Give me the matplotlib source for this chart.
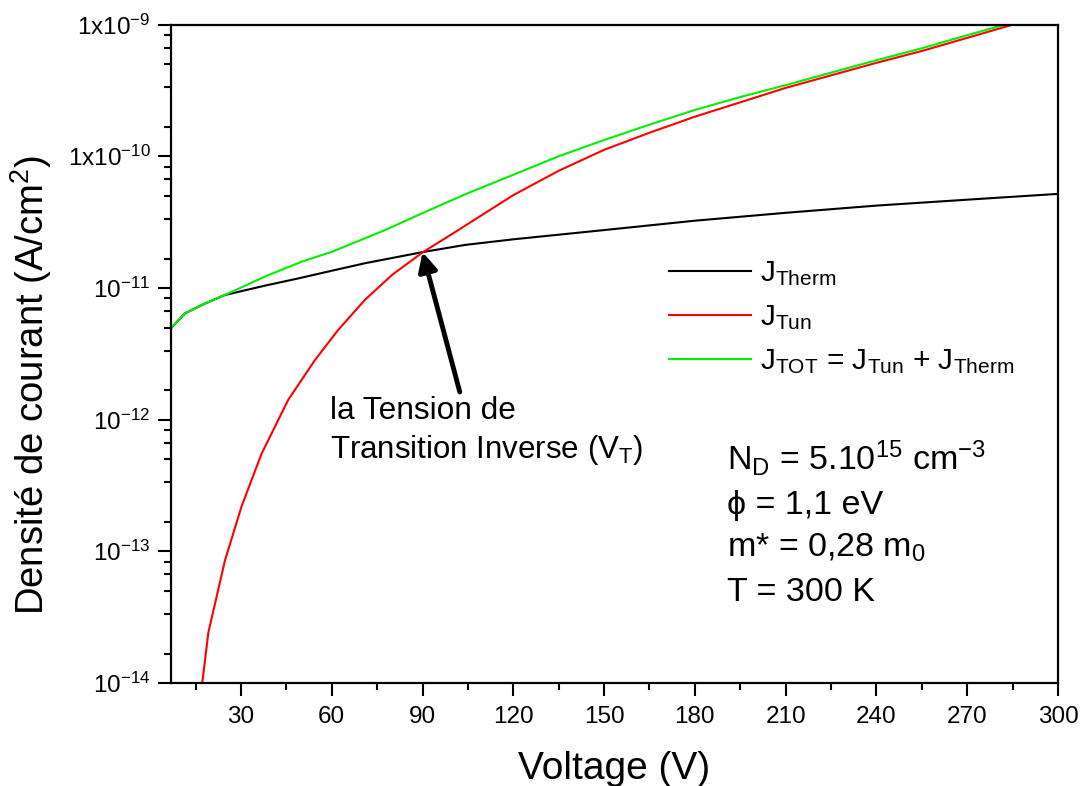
import matplotlib
matplotlib.use('Agg')
import matplotlib.pyplot as plt
from matplotlib.ticker import FixedLocator, NullFormatter

plt.rcParams['font.family'] = ['Liberation Sans', 'DejaVu Sans']
plt.rcParams['mathtext.fontset'] = 'custom'
plt.rcParams['mathtext.rm'] = 'Liberation Sans'
plt.rcParams['mathtext.it'] = 'Liberation Sans:italic'
plt.rcParams['mathtext.bf'] = 'Liberation Sans:bold'

# ---------------- data ----------------
v_therm = [6.8, 11.5, 18, 24.7, 37.9, 48.9, 60, 71, 90, 104, 120, 150, 180, 210, 240, 270, 300]
j_therm = [4.93e-12, 6.41e-12, 7.59e-12, 8.83e-12, 1.04e-11, 1.18e-11, 1.35e-11, 1.54e-11,
           1.87e-11, 2.12e-11, 2.34e-11, 2.75e-11, 3.24e-11, 3.72e-11, 4.22e-11, 4.68e-11, 5.18e-11]

v_tun = [16.0, 19.2, 24.7, 30.2, 36.8, 45.6, 54.4, 62.1, 71.0, 80.0, 90.0, 101.8, 120, 135, 150,
         165, 180, 195, 210, 225, 240, 255, 270, 285, 290]
j_tun = [5.9e-15, 2.4e-14, 8.5e-14, 2.19e-13, 5.5e-13, 1.41e-12, 2.82e-12, 4.79e-12, 8.13e-12,
         1.26e-11, 1.86e-11, 2.75e-11, 5.07e-11, 7.76e-11, 1.12e-10, 1.51e-10, 2.0e-10, 2.57e-10,
         3.31e-10, 4.12e-10, 5.13e-10, 6.31e-10, 7.94e-10, 1.0e-9, 1.07e-9]

v_tot = [6.8, 11.5, 18, 24.7, 37.9, 50, 60, 77.6, 90, 105, 120, 135, 150, 165, 180, 195, 210,
         225, 240, 255, 270, 282.4, 290]
j_tot = [4.93e-12, 6.41e-12, 7.59e-12, 8.83e-12, 1.22e-11, 1.58e-11, 1.88e-11, 2.75e-11, 3.70e-11,
         5.25e-11, 7.24e-11, 1.0e-10, 1.33e-10, 1.74e-10, 2.25e-10, 2.82e-10, 3.47e-10, 4.32e-10,
         5.37e-10, 6.61e-10, 8.32e-10, 1.0e-9, 1.12e-9]

x_major = [30, 60, 90, 120, 150, 180, 210, 240, 270, 300]
x_minor = [15, 45, 75, 105, 135, 165, 195, 225, 255, 285]
y_major = [1e-14, 1e-13, 1e-12, 1e-11, 1e-10, 1e-9]
y_major_labels = [r'$\mathregular{10^{-14}}$', r'$\mathregular{10^{-13}}$', r'$\mathregular{10^{-12}}$',
                  r'$\mathregular{10^{-11}}$', r'$\mathregular{1x10^{-10}}$', r'$\mathregular{1x10^{-9}}$']
y_minor_mant = [1/6, 2/6, 3/6, 4/6, 5/6]

labels = [r'J$_{\mathregular{Therm}}$', r'J$_{\mathregular{Tun}}$',
          r'J$_{\mathregular{TOT}}$ = J$_{\mathregular{Tun}}$ + J$_{\mathregular{Therm}}$']

# ---------------- figure ----------------
fig = plt.figure(figsize=(10.81, 7.86), dpi=100)
ax = fig.add_axes([0.158, 0.1314, 0.8207, 0.8372])

ax.plot(v_therm, j_therm, color='black', lw=1.5, label=labels[0])
ax.plot(v_tun, j_tun, color='#ff0000', lw=1.5, label=labels[1])
ax.plot(v_tot, j_tot, color='#00f000', lw=1.5, label=labels[2])

ax.set_yscale('log')
ax.set_xlim(6.8, 300)
ax.set_ylim(1e-14, 1e-9)

ax.xaxis.set_major_locator(FixedLocator(x_major))
ax.xaxis.set_minor_locator(FixedLocator(x_minor))
ax.yaxis.set_major_locator(FixedLocator(y_major))
ax.set_yticklabels(y_major_labels)
minor_y = [d * 10 * m for d in y_major[:-1] for m in y_minor_mant]
ax.yaxis.set_minor_locator(FixedLocator(minor_y))
ax.yaxis.set_minor_formatter(NullFormatter())

for s in ax.spines.values():
    s.set_linewidth(1.6)
ax.tick_params(which='major', direction='out', length=9.5, width=1.5, labelsize=17.5,
               top=False, right=False)
ax.tick_params(which='minor', direction='out', length=5, width=1.5, top=False, right=False)
ax.tick_params(axis='x', which='major', pad=7)
ax.tick_params(axis='y', which='major', pad=5)

ax.set_xlabel('Voltage (V)', fontsize=28)
ax.set_ylabel('Densité de courant (A/cm$^{\\mathregular{2}}$)', fontsize=27.5)
ax.xaxis.set_label_coords(0.5, -0.104)
ax.yaxis.set_label_coords(-0.132, 0.452)

leg = ax.legend(loc='upper left', bbox_to_anchor=(0.548, 0.662), frameon=False, fontsize=21.5,
                handlelength=2.75, handletextpad=0.3, labelspacing=0.52, borderaxespad=0)

ax.annotate('', xy=(90, 1.87e-11), xytext=(102.3, 1.62e-12),
            arrowprops=dict(arrowstyle='-|>', lw=3.5, color='black', mutation_scale=28,
                            shrinkA=0, shrinkB=0))

ax.text(0.1795, 0.4008, 'la Tension de', transform=ax.transAxes, fontsize=22.8, va='baseline')
ax.text(0.1795, 0.3415, 'Transition Inverse (V$_{\\mathregular{T}}$)', transform=ax.transAxes,
        fontsize=22.5, va='baseline')

params = ['N$_{\\mathregular{D}}$ = 5.10$^{\\mathregular{15}}$ cm$^{\\mathregular{-3}}$',
          '\u03d5 = 1,1 eV',
          'm* = 0,28 m$_{\\mathregular{0}}$',
          'T = 300 K']
px = (727 - 170.7) / 887.3
for i, t in enumerate(params):
    yb = (682.7 - (470 + i * 43.5)) / 658
    ax.text(px, yb, t, transform=ax.transAxes, fontsize=24.5, va='baseline')

fig.savefig('out.png', dpi=100)
